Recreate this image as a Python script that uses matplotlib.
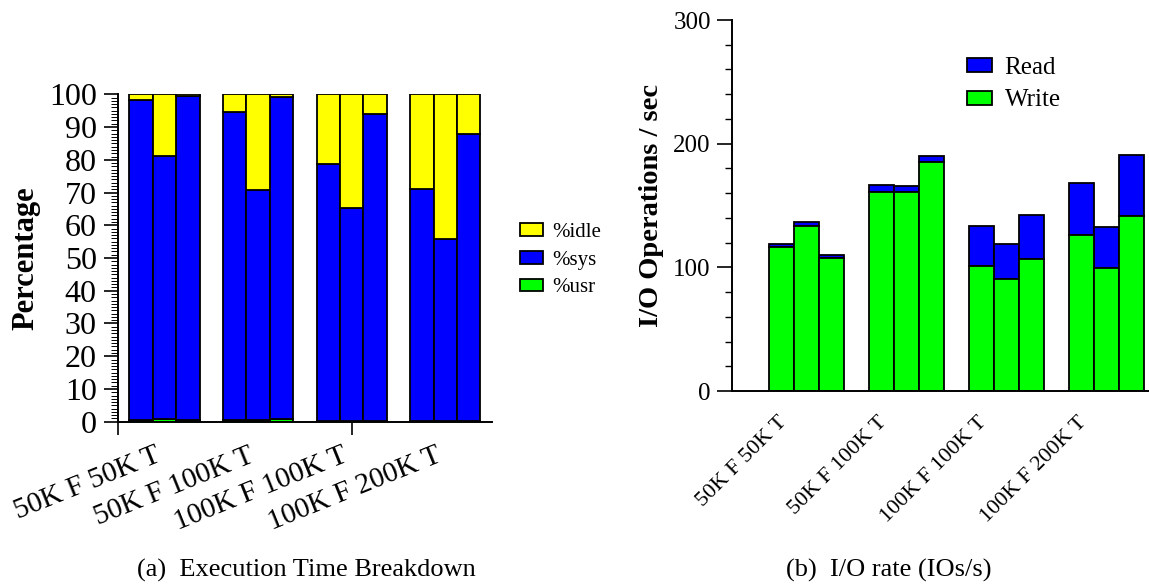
import numpy as np
import matplotlib
matplotlib.use("Agg")
import matplotlib.pyplot as plt
from matplotlib.ticker import MultipleLocator, FixedLocator, NullFormatter

plt.rcParams['font.family'] = ['Liberation Serif', 'DejaVu Serif']

configs = ["50K F 50K T", "50K F 100K T", "100K F 100K T", "100K F 200K T"]

# (a) execution time breakdown, three bars per config
usr = [0.5, 0.8, 0.5, 0.5, 0.5, 0.8, 0.2, 0.2, 0.2, 0.2, 0.2, 0.2]
busy = [98.2, 81.2, 99.5, 94.7, 70.8, 99.3, 78.7, 65.3, 94.1, 71.1, 55.7, 88.0]

# (b) I/O rate, three bars per config
write = [116.5, 133.3, 107.6, 161.3, 161.3, 185.3, 101.2, 90.6, 106.6, 126.0, 99.5, 141.6]
read = [2.7, 3.5, 2.2, 4.9, 4.3, 4.6, 32.1, 28.4, 36.1, 42.1, 33.2, 49.4]

YELLOW, BLUE, GREEN = '#ffff00', '#0000ff', '#00ff00'

usr = np.array(usr)
sys_ = np.array(busy) - usr
idle = 100 - np.array(busy)

# bar positions: 3 bars per group, one empty slot between groups
pos = np.array([4 * g + b for g in range(4) for b in range(3)])
centers = np.array([4 * g + 1 for g in range(4)])

fig = plt.figure(figsize=(11.49, 5.85), dpi=100)

# ---------- left panel ----------
ax1 = fig.add_axes([0.1024, 0.2791, 0.3258, 0.5597])
kw = dict(width=1.0, edgecolor='black', linewidth=1.3)
ax1.bar(pos, usr, color=GREEN, label='%usr', **kw)
ax1.bar(pos, sys_, bottom=usr, color=BLUE, label='%sys', **kw)
ax1.bar(pos, idle, bottom=usr + sys_, color=YELLOW, label='%idle', **kw)

ax1.set_xlim(-1, 15)
ax1.set_ylim(0, 100)
ax1.spines['top'].set_visible(False)
ax1.spines['right'].set_visible(False)
for s in ('left', 'bottom'):
    ax1.spines[s].set_linewidth(1.4)
ax1.yaxis.set_major_locator(MultipleLocator(10))
ax1.yaxis.set_minor_locator(MultipleLocator(1))
ax1.tick_params(axis='y', which='major', labelsize=23, length=10, width=1.2, pad=5)
ax1.tick_params(axis='y', which='minor', length=5, width=0.7)
ax1.xaxis.remove_overlapping_locs = False
ax1.xaxis.set_major_locator(FixedLocator([-1, 9]))
ax1.xaxis.set_major_formatter(NullFormatter())
ax1.xaxis.set_minor_locator(FixedLocator(centers))
ax1.set_xticklabels(configs, minor=True, rotation=22, ha='right', fontsize=21)
ax1.tick_params(axis='x', which='major', length=9.5, width=1.2)
ax1.tick_params(axis='x', which='minor', length=0, pad=15)
ax1.set_ylabel('Percentage', fontsize=22, fontweight='bold', labelpad=6)

h, l = ax1.get_legend_handles_labels()
ax1.legend(h[::-1], l[::-1], loc='upper left', bbox_to_anchor=(0.4526, 1 - 223 / 585),
           bbox_transform=fig.transFigure, frameon=False, fontsize=15,
           handlelength=1.1, handleheight=0.55, handletextpad=0.45,
           labelspacing=0.42, borderpad=0, borderaxespad=0)

# ---------- right panel ----------
ax2 = fig.add_axes([0.6368, 0.3316, 0.3632, 0.6342])
kw2 = dict(width=1.0, edgecolor='black', linewidth=1.3)
ax2.bar(pos, read, bottom=write, color=BLUE, label='Read', **kw2)
ax2.bar(pos, write, color=GREEN, label='Write', **kw2)

ax2.set_xlim(-2, 14.7)
ax2.set_ylim(0, 300)
ax2.spines['top'].set_visible(False)
ax2.spines['right'].set_visible(False)
for s in ('left', 'bottom'):
    ax2.spines[s].set_linewidth(1.4)
ax2.yaxis.set_major_locator(MultipleLocator(100))
ax2.yaxis.set_minor_locator(MultipleLocator(20))
ax2.tick_params(axis='y', which='major', labelsize=18, length=11, width=1.2, pad=4)
ax2.tick_params(axis='y', which='minor', length=5, width=1.0)
ax2.xaxis.set_major_locator(FixedLocator([]))
ax2.xaxis.set_minor_locator(FixedLocator(centers - 0.65))
ax2.set_xticklabels(configs, minor=True, rotation=45, ha='right', fontsize=16)
ax2.tick_params(axis='x', which='minor', length=0, pad=16)
ax2.set_ylabel('I/O Operations / sec', fontsize=20.5, fontweight='bold', labelpad=7)

ax2.legend(loc='upper left', bbox_to_anchor=(0.8416, 1 - 57 / 585),
           bbox_transform=fig.transFigure, frameon=False, fontsize=18,
           handlelength=1.0, handleheight=0.5, handletextpad=0.5,
           labelspacing=0.42, borderpad=0, borderaxespad=0)

# ---------- captions ----------
fig.text(0.2663, 1 - 570 / 585, '(a)  Execution Time Breakdown', ha='center', va='center', fontsize=19)
fig.text(0.7737, 1 - 570 / 585, '(b)  I/O rate (IOs/s)', ha='center', va='center', fontsize=19)

fig.savefig('out.png', dpi=100)
